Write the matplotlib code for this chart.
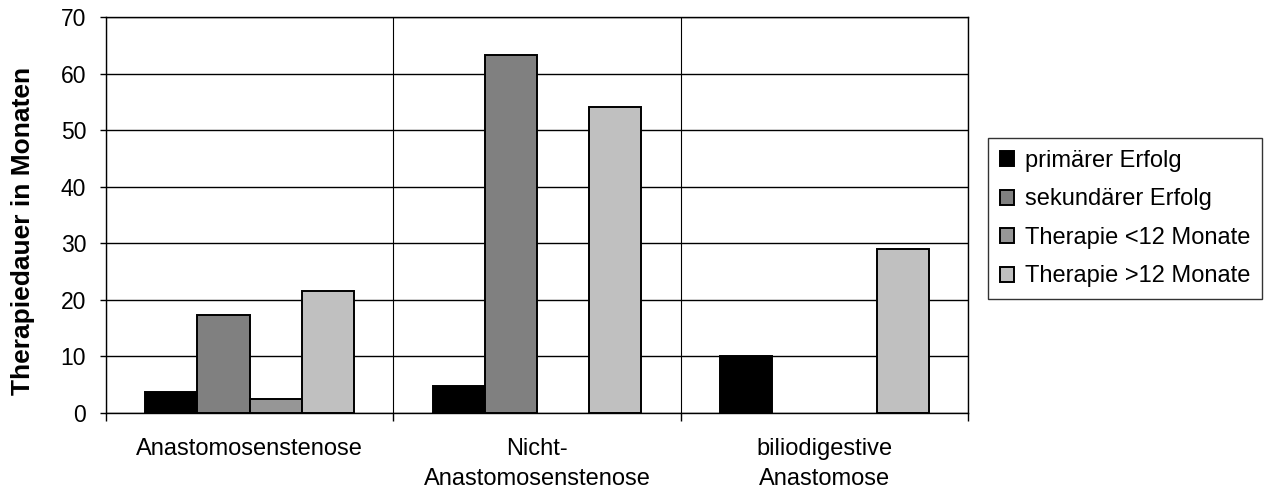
import numpy as np
from matplotlib import pyplot as plt

plt.rcParams['font.family'] = ['Liberation Sans', 'DejaVu Sans']

CATEGORIES = ["Anastomosenstenose", "Nicht-\nAnastomosenstenose", "biliodigestive\nAnastomose"]
SERIES = ["primärer Erfolg", "sekundärer Erfolg", "Therapie <12 Monate", "Therapie >12 Monate"]
PRIMAER = [3.8, 4.8, 10.0]
SEKUNDAER = [17.4, 63.2, 0.0]
UNTER_12 = [2.5, 0.0, 0.0]
UEBER_12 = [21.5, 54.1, 29.0]
COLORS = ['#000000', '#808080', '#969696', '#c0c0c0']


def main():
    values = [PRIMAER, SEKUNDAER, UNTER_12, UEBER_12]
    fig = plt.figure(figsize=(12.69, 4.91), dpi=100)
    ax = fig.add_axes([106 / 1269, 1 - 413 / 491, 862 / 1269, 396 / 491])

    # gap width 150 % like the old office charts
    n = len(values)
    width = 1 / (n + 1.5)
    x = np.arange(len(CATEGORIES))
    handles = []
    for i, (series, color) in enumerate(zip(values, COLORS)):
        offs = -0.5 + 0.75 * width + (i + 0.5) * width
        bars = ax.bar(x + offs, series, width, color=color, edgecolor='black',
                      linewidth=1.4, zorder=3, label=SERIES[i])
        for b, v in zip(bars, series):
            if v == 0:
                b.set_visible(False)
        handles.append(bars)

    ax.set_xlim(-0.5, len(CATEGORIES) - 0.5)
    ax.set_ylim(0, 70)
    ax.set_yticks(range(0, 71, 10))
    ax.yaxis.grid(True, color='black', linewidth=1, zorder=0)

    # category separators
    ax.set_xticks(np.arange(len(CATEGORIES) + 1) - 0.5)
    ax.set_xticklabels([])
    ax.xaxis.grid(True, color='black', linewidth=0.8, zorder=0)
    ax.set_xticks(x, minor=True)
    ax.set_xticklabels(CATEGORIES, minor=True, fontsize=17, linespacing=1.45)
    ax.tick_params(axis='x', which='minor', length=0, pad=18)
    ax.tick_params(axis='x', which='major', length=6, width=1, direction='out')
    ax.tick_params(axis='y', length=4.3, width=1, direction='out', labelsize=16.5, pad=10)

    for s in ax.spines.values():
        s.set_linewidth(1)
        s.set_color('black')

    fig.text(23 / 1269, 1 - 231 / 491, "Therapiedauer in Monaten", rotation=90,
             fontsize=19, fontweight='bold', ha='center', va='center')

    leg = fig.legend(handles=handles, labels=SERIES, loc='upper left',
                     bbox_to_anchor=(988 / 1269, 1 - 138 / 491), fontsize=17,
                     frameon=True, fancybox=False, edgecolor='black',
                     handlelength=0.6, handleheight=0.6, handletextpad=0.45,
                     labelspacing=0.7, borderpad=0.5, borderaxespad=0)
    leg.get_frame().set_linewidth(1)

    fig.savefig('out.png', dpi=100)


if __name__ == '__main__':
    main()
